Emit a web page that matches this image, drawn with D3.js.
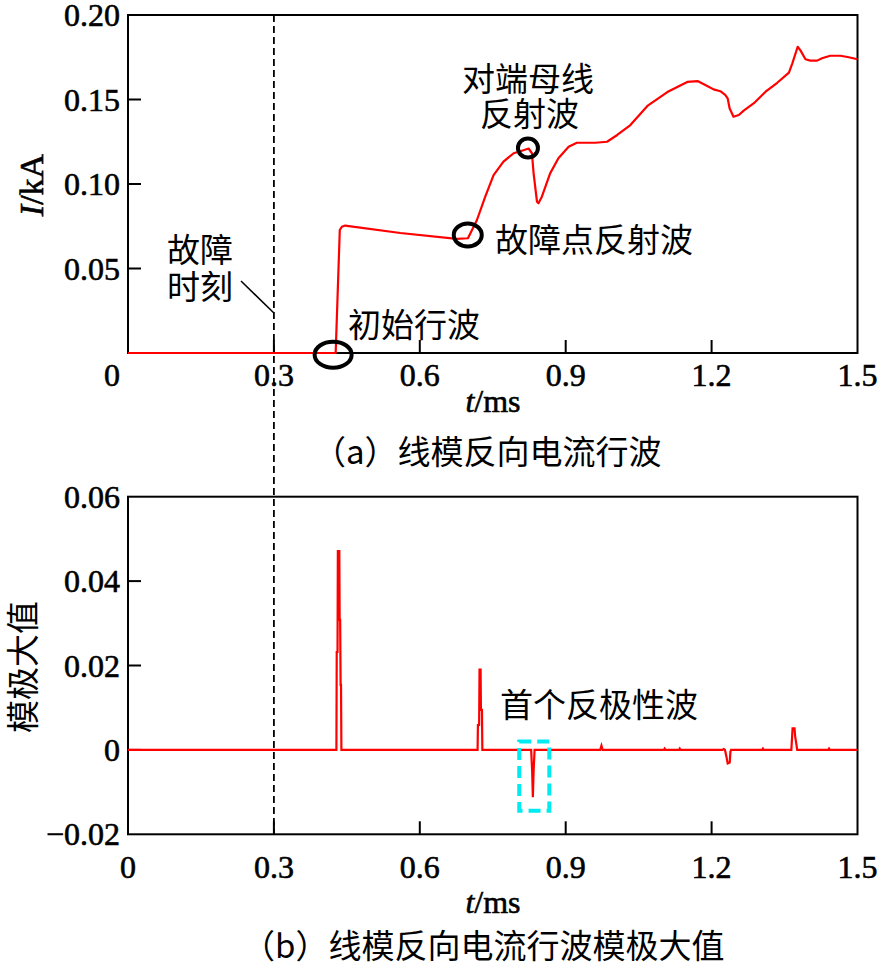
<!DOCTYPE html>
<html><head><meta charset="utf-8">
<script src="https://cdn.jsdelivr.net/npm/d3@7/dist/d3.min.js"></script>
<style>body{margin:0;background:#fff} svg{display:block}</style>
</head><body><svg id="c" width="881" height="964"></svg>
<script>
// ---------- data ----------
const xTicks = [0, 0.3, 0.6, 0.9, 1.2, 1.5];
const xTickLabels = ["0", "0.3", "0.6", "0.9", "1.2", "1.5"];
const yTicksTop = [0.05, 0.10, 0.15, 0.20];
const yTickLabelsTop = ["0.05", "0.10", "0.15", "0.20"];
const yTicksBot = [-0.02, 0, 0.02, 0.04, 0.06];
const yTickLabelsBot = ["\u22120.02", "0", "0.02", "0.04", "0.06"];
const faultTime = 0.3;

// (a) line-mode backward current travelling wave, I/kA vs t/ms
const tTop = [0, 0.427, 0.4355, 0.4397, 0.4465, 0.56, 0.676, 0.699, 0.7175, 0.7346, 0.7517, 0.772, 0.793, 0.810, 0.8237,
  0.8306, 0.834, 0.841, 0.844, 0.851, 0.868, 0.885, 0.906, 0.923, 0.961, 0.985, 1.006, 1.033, 1.068, 1.109, 1.150,
  1.171, 1.191, 1.204, 1.218, 1.228, 1.233, 1.237, 1.245, 1.256, 1.266, 1.287, 1.311, 1.335, 1.359, 1.366, 1.377,
  1.383, 1.393, 1.403, 1.417, 1.427, 1.444, 1.465, 1.482, 1.5];
const iTop = [0, 0, 0.0728, 0.0747, 0.0754, 0.0710, 0.0675, 0.0679, 0.0787, 0.0925, 0.1053, 0.1132, 0.1182, 0.1197, 0.1210,
  0.1182, 0.1063, 0.0895, 0.0886, 0.0925, 0.1063, 0.1152, 0.1221, 0.1244, 0.1244, 0.1250, 0.1290, 0.1349, 0.1462, 0.1544, 0.1604,
  0.1609, 0.1580, 0.1560, 0.1549, 0.1527, 0.1507, 0.1448, 0.1398, 0.1408, 0.1434, 0.1478, 0.1546, 0.1599, 0.1659, 0.1714, 0.1812,
  0.1789, 0.1738, 0.1730, 0.1730, 0.1744, 0.1759, 0.1759, 0.1750, 0.1738];

// (b) modulus maxima
const tBot = [0, 0.4285, 0.4292, 0.4308, 0.4315, 0.4345, 0.4352, 0.4362, 0.4372, 0.4380, 0.4388,
  0.7188, 0.7195, 0.7220, 0.7228, 0.7250, 0.7257, 0.7278, 0.7286,
  0.8290, 0.8310, 0.8325, 0.8340, 0.8360,
  0.9710, 0.9735, 0.9760, 1.1020, 1.1035, 1.1050, 1.1330, 1.1345, 1.1360,
  1.2220, 1.2249, 1.2275, 1.2305, 1.2331, 1.2373, 1.2387, 1.2401,
  1.3040, 1.3055, 1.3070, 1.3640, 1.3665, 1.3705, 1.3720, 1.3740, 1.3760,
  1.4400, 1.4415, 1.4430, 1.5];
const mBot = [0, 0, 0.0232, 0.0232, 0.0471, 0.0471, 0.0308, 0.0308, 0.0154, 0.0154, 0,
  0, 0.0059, 0.0059, 0.019, 0.019, 0.0095, 0.0095, 0,
  0, -0.005, -0.0112, -0.005, 0,
  0, 0.001, 0, 0, 0.0003, 0, 0, 0.0003, 0,
  0, 0.0002, 0, -0.0016, -0.0032, -0.0030, -0.0004, 0,
  0, 0.0003, 0, 0, 0.0051, 0.0051, 0.003, 0.0016, 0,
  0, 0.0003, 0, 0];

// annotation anchors (data units)
const markInitial = [0.4218, -0.001];
const markFault = [0.6986, 0.0698];
const markRemote = [0.8224, 0.1213];
const boxFirstReverse = [[0.8045, 0.002], [0.8663, -0.0144]];

// ---------- layout ----------
const svg = d3.select("#c");
const SERIF = "'Liberation Serif','Times New Roman',serif";
const CJK = "'Noto Sans CJK SC','Noto Sans CJK JP',sans-serif";
const FS = 32, CFS = 33;

const x = d3.scaleLinear().domain([0, 1.5]).range([128, 857.5]);
const yA = d3.scaleLinear().domain([0, 0.2]).range([353, 15]);
const yB = d3.scaleLinear().domain([-0.02, 0.06]).range([834.3, 496.7]);

// fault-time dashed line spanning both panels
svg.append("line")
  .attr("x1", x(faultTime)).attr("x2", x(faultTime))
  .attr("y1", yA(0.2)).attr("y2", yB(-0.02))
  .attr("stroke", "#000").attr("stroke-width", 1.8).attr("stroke-dasharray", "7,4");

function num(sel) {
  return sel.attr("font-family", SERIF).attr("font-size", FS)
    .attr("stroke", "#000").attr("stroke-width", 0.6).attr("fill", "#000");
}

function panel(y, yTicks, yLabels, xLabelBase, skipZeroY) {
  const [y0, y1] = y.range();
  const g = svg.append("g");
  g.append("rect").attr("x", x(0)).attr("y", y1).attr("width", x(1.5) - x(0)).attr("height", y0 - y1)
    .attr("fill", "none").attr("stroke", "#000").attr("stroke-width", 2);
  const yd = y.domain();
  g.selectAll(".yt").data(yTicks.filter(v => v > yd[0] && v < yd[1])).join("line")
    .attr("x1", x(0)).attr("x2", x(0) + 13).attr("y1", d => y(d)).attr("y2", d => y(d))
    .attr("stroke", "#000").attr("stroke-width", 2);
  g.selectAll(".xt").data(xTicks.filter(v => v > 0 && v < 1.5)).join("line")
    .attr("x1", d => x(d)).attr("x2", d => x(d)).attr("y1", y0).attr("y2", y0 - 13)
    .attr("stroke", "#000").attr("stroke-width", 2);
  num(g.selectAll(".yl").data(d3.zip(yTicks, yLabels)).join("text")
    .attr("x", x(0) - 8).attr("y", d => y(d[0]) + 11)
    .attr("text-anchor", "end"))
    .text(d => d[1]);
  num(g.selectAll(".xl").data(d3.zip(xTicks, xTickLabels)).join("text")
    .attr("x", d => (d[0] === 0 && skipZeroY) ? x(0) - 16 : x(d[0]))
    .attr("y", xLabelBase)
    .attr("text-anchor", "middle"))
    .text(d => d[1]);
  return g;
}

panel(yA, yTicksTop, yTickLabelsTop, 386, true);
panel(yB, yTicksBot, yTickLabelsBot, 878, false);

// series
const lineA = d3.line().x(d => x(d[0])).y(d => yA(d[1]));
const lineB = d3.line().x(d => x(d[0])).y(d => yB(d[1]));
svg.append("path").attr("d", lineA(d3.zip(tTop, iTop)))
  .attr("fill", "none").attr("stroke", "#ff0000").attr("stroke-width", 2.2).attr("stroke-linejoin", "round");
svg.append("path").attr("d", lineB(d3.zip(tBot, mBot)))
  .attr("fill", "none").attr("stroke", "#ff0000").attr("stroke-width", 2.2).attr("stroke-linejoin", "miter");

// axis titles
function xTitle(yBase) {
  const t = num(svg.append("text").attr("x", 493).attr("y", yBase).attr("text-anchor", "middle"));
  t.append("tspan").attr("font-style", "italic").text("t");
  t.append("tspan").text("/ms");
}
xTitle(412);
xTitle(913);

const yt = num(svg.append("text").attr("transform", "translate(43,185) rotate(-90)").attr("text-anchor", "middle"))
  .attr("font-size", 34);
yt.append("tspan").attr("font-style", "italic").text("I");
yt.append("tspan").text("/kA");

svg.append("text").attr("transform", "translate(21,667) rotate(-90)").attr("text-anchor", "middle")
  .attr("dominant-baseline", "central").attr("font-family", CJK).attr("font-size", CFS).text("模极大值");

// captions
svg.append("text").attr("x", 313).attr("y", 450).attr("dominant-baseline", "central")
  .attr("font-family", CJK).attr("font-size", CFS).text("（a）线模反向电流行波");
svg.append("text").attr("x", 242).attr("y", 944).attr("dominant-baseline", "central")
  .attr("font-family", CJK).attr("font-size", CFS).text("（b）线模反向电流行波模极大值");

// annotations
function label(tx, ty, s) {
  svg.append("text").attr("x", tx).attr("y", ty).attr("dominant-baseline", "central")
    .attr("font-family", CJK).attr("font-size", CFS).attr("fill", "#000").text(s);
}
label(167, 248, "故障");
label(167, 285, "时刻");
label(348, 323, "初始行波");
label(495, 238, "故障点反射波");
label(462, 77, "对端母线");
label(480, 112, "反射波");
label(500, 703, "首个反极性波");

svg.append("line").attr("x1", 241).attr("y1", 281).attr("x2", x(faultTime)).attr("y2", 313)
  .attr("stroke", "#000").attr("stroke-width", 1.5);

const ell = [[markInitial, 18.5, 13], [markFault, 14, 11.5], [markRemote, 10, 9.5]];
svg.selectAll(".ell").data(ell).join("ellipse")
  .attr("cx", d => x(d[0][0])).attr("cy", d => yA(d[0][1]))
  .attr("rx", d => d[1]).attr("ry", d => d[2])
  .attr("fill", "none").attr("stroke", "#000").attr("stroke-width", 4);

svg.append("rect")
  .attr("x", x(boxFirstReverse[0][0])).attr("y", yB(boxFirstReverse[0][1]))
  .attr("width", x(boxFirstReverse[1][0]) - x(boxFirstReverse[0][0]))
  .attr("height", yB(boxFirstReverse[1][1]) - yB(boxFirstReverse[0][1]))
  .attr("fill", "none").attr("stroke", "#00eaf2").attr("stroke-width", 4).attr("stroke-dasharray", "12,6");
</script></body></html>
